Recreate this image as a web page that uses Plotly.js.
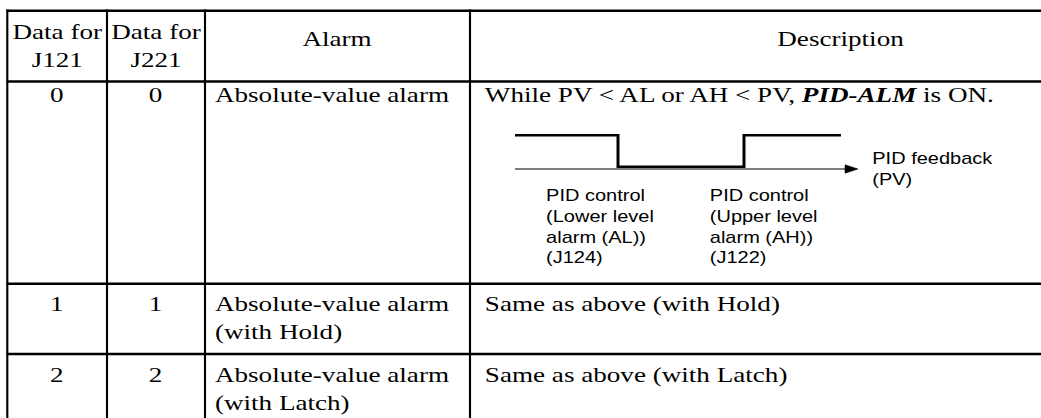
<!DOCTYPE html>
<html>
<head>
<meta charset="utf-8">
<script src="https://cdn.plot.ly/plotly-3.0.1.min.js"></script>
<style>
  html, body { margin: 0; padding: 0; background: #ffffff; overflow: hidden; width: 1041px; height: 418px; }
  #chart { height: 418px; transform-origin: 0 0; }
</style>
</head>
<body>
<div id="chart"></div>
<script>
// ---------------- data ----------------
const headers = ["Data for<br>J121", "Data for<br>J221", "Alarm", "Description"];
const dataJ121 = ["0", "1", "2"];
const dataJ221 = ["0", "1", "2"];
const alarms = [
  "Absolute-value alarm",
  "Absolute-value alarm<br>(with Hold)",
  "Absolute-value alarm<br>(with Latch)"
];
const descriptions = [
  "While PV &lt; AL or AH &lt; PV, <b><i>PID-ALM</i></b> is ON.",
  "Same as above (with Hold)",
  "Same as above (with Latch)"
];
// PID-ALM output vs PID feedback (PV): breakpoints along the PV axis and ON(1)/OFF(0) level
const pvPoints = [515, 618, 618, 744, 744, 841];
const almState = [1, 1, 0, 0, 1, 1];
const diagramLabels = [
  "PID control<br>(Lower level<br>alarm (AL))<br>(J124)",
  "PID control<br>(Upper level<br>alarm (AH))<br>(J122)",
  "PID feedback<br>(PV)"
];

// ---------------- layout ----------------
const FULL_W = 1041, FULL_H = 418;
const STRETCH = 1.25;                 // horizontal stretch of the original scan
const W = Math.round(FULL_W / STRETCH);
const div = document.getElementById('chart');
div.style.width = W + 'px';
div.style.transform = 'scaleX(' + (FULL_W / W) + ')';

const colEdges = [7.3, 107, 205, 470];
const rowEdges = [10.7, 81.5, 283.7, 354];
const colCenters = [(colEdges[0] + colEdges[1]) / 2, (colEdges[1] + colEdges[2]) / 2, 337.5, 841];
const textLeft = [213, 483];
const rowTextTop = [80.5, 289.5, 360.5];

const SERIF = "Liberation Serif, Times New Roman, serif";
const SANS = "Liberation Sans, Arial, sans-serif";
const serifFont = {family: SERIF, size: 21.7, color: "#000"};
const sansFont = {family: SANS, size: 16, color: "#000"};

const shapes = [];
rowEdges.forEach(y => shapes.push({type: "line", xref: "x", yref: "y", x0: colEdges[0] - 0.8, x1: FULL_W + 5, y0: y, y1: y, line: {color: "#000", width: 2.5}}));
colEdges.forEach(x => shapes.push({type: "line", xref: "x", yref: "y", x0: x, x1: x, y0: rowEdges[0] - 1.2, y1: FULL_H + 10, line: {color: "#000", width: 1.7}}));

// PV axis with arrow head
const axisY = 169, axisEnd = 858, headLen = 13, headHalf = 4.2;
shapes.push({type: "line", xref: "x", yref: "y", x0: pvPoints[0], x1: axisEnd - headLen + 1, y0: axisY, y1: axisY, line: {color: "#000", width: 1.2}});
shapes.push({type: "path", xref: "x", yref: "y",
  path: `M${axisEnd - headLen},${axisY - headHalf} L${axisEnd},${axisY} L${axisEnd - headLen},${axisY + headHalf} Z`,
  fillcolor: "#000", line: {color: "#000", width: 0.5}});

const ann = [];
function add(text, x, y, xanchor, align, font) {
  ann.push({text, x, y, xref: "x", yref: "y", xanchor, yanchor: "top", align, showarrow: false, font});
}
// header
add(headers[0], colCenters[0], 17.5, "center", "center", serifFont);
add(headers[1], colCenters[1], 17.5, "center", "center", serifFont);
add(headers[2], colCenters[2], 24.5, "center", "center", serifFont);
add(headers[3], colCenters[3], 24.5, "center", "center", serifFont);
// rows
for (let i = 0; i < alarms.length; i++) {
  add(dataJ121[i], colCenters[0], rowTextTop[i], "center", "center", serifFont);
  add(dataJ221[i], colCenters[1], rowTextTop[i], "center", "center", serifFont);
  add(alarms[i], textLeft[0], rowTextTop[i], "left", "left", serifFont);
  add(descriptions[i], textLeft[1], rowTextTop[i], "left", "left", serifFont);
}
// diagram labels
add(diagramLabels[0], 544, 185, "left", "left", sansFont);
add(diagramLabels[1], 707, 185, "left", "left", sansFont);
add(diagramLabels[2], 870, 148, "left", "left", sansFont);

// state axis: 1 -> pixel 135.3, 0 -> pixel 166.8
const pHi = 135.3, pLo = 166.8;
const vAt = p => (p - pLo) / (pHi - pLo);

const traces = [{
  type: "scatter", mode: "lines", x: pvPoints, y: almState, xaxis: "x", yaxis: "y2",
  line: {color: "#000", width: 2.4, shape: "linear"}, hoverinfo: "skip", showlegend: false
}];

const layout = {
  width: W, height: FULL_H,
  margin: {l: 0, r: 0, t: 0, b: 0, pad: 0},
  paper_bgcolor: "#fff", plot_bgcolor: "#fff",
  showlegend: false,
  xaxis: {range: [0, FULL_W], visible: false, fixedrange: true},
  yaxis: {range: [FULL_H, 0], visible: false, fixedrange: true},
  yaxis2: {range: [vAt(FULL_H), vAt(0)], overlaying: "y", visible: false, fixedrange: true},
  shapes, annotations: ann
};

Plotly.newPlot(div, traces, layout, {staticPlot: true, displayModeBar: false});
</script>
</body>
</html>
